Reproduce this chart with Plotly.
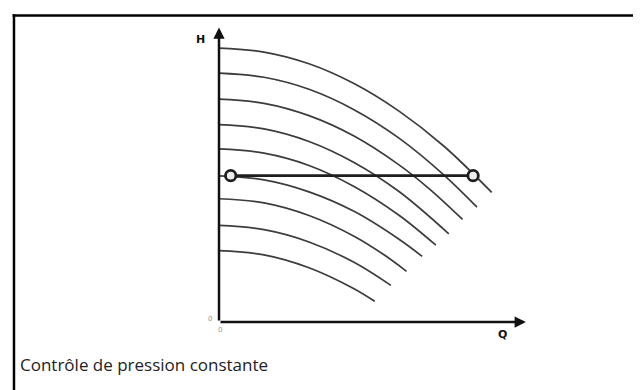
import plotly.graph_objects as go

# Pump curves (H versus Q) at different speeds
q_1 = [0, 1.5, 3, 4.5, 6, 7.5, 9.09]
h_1 = [9.13, 9.00, 8.61, 7.95, 7.03, 5.86, 4.32]
q_2 = [0, 1.5, 3, 4.5, 6, 7.5, 8.6]
h_2 = [8.30, 8.16, 7.76, 7.08, 6.13, 4.90, 3.83]
q_3 = [0, 1.5, 3, 4.5, 6, 7.0, 8.12]
h_3 = [7.43, 7.29, 6.88, 6.20, 5.24, 4.45, 3.42]
q_4 = [0, 1.5, 3, 4.5, 6, 7.66]
h_4 = [6.58, 6.44, 6.02, 5.32, 4.35, 2.94]
q_5 = [0, 1.5, 3, 4.5, 6, 7.23]
h_5 = [5.77, 5.63, 5.22, 4.52, 3.56, 2.56]
q_6 = [0, 1.5, 3, 4.5, 6, 6.77]
h_6 = [4.87, 4.74, 4.34, 3.69, 2.76, 2.19]
q_7 = [0, 1.5, 3, 4.5, 5.5, 6.25]
h_7 = [4.11, 3.97, 3.55, 2.86, 2.24, 1.69]
q_8 = [0, 1.5, 3, 4.5, 5.73]
h_8 = [3.22, 3.08, 2.67, 1.99, 1.22]
q_9 = [0, 1.5, 3, 4.5, 5.19]
h_9 = [2.38, 2.24, 1.81, 1.11, 0.69]

# Constant pressure control line
const_q = [0.39, 8.47]
const_h = [4.88, 4.88]

axis_q_max = 10.23
axis_h_max = 9.82
x_label = "Q"
y_label = "H"
zero_label = "0"
caption = "Contrôle de pression constante"

curves_q = [q_1, q_2, q_3, q_4, q_5, q_6, q_7, q_8, q_9]
curves_h = [h_1, h_2, h_3, h_4, h_5, h_6, h_7, h_8, h_9]

fig = go.Figure()
for qs, hs in zip(curves_q, curves_h):
    fig.add_trace(go.Scatter(
        x=qs, y=hs, mode="lines",
        line=dict(color="#3c3c3c", width=1.7, shape="spline"),
        hoverinfo="skip", showlegend=False,
    ))

fig.add_trace(go.Scatter(
    x=const_q, y=const_h, mode="lines+markers",
    line=dict(color="#1e1e1e", width=2.7),
    marker=dict(size=10.5, color="#ededed", line=dict(color="#1e1e1e", width=2.8)),
    hoverinfo="skip", showlegend=False, cliponaxis=False,
))

# axis arrows
fig.add_annotation(x=0, y=axis_h_max, ax=0, ay=0, xref="x", yref="y",
                   axref="x", ayref="y", showarrow=True, arrowhead=2,
                   arrowsize=0.9, arrowwidth=2.5, arrowcolor="#111111", text="")
fig.add_annotation(x=axis_q_max, y=0, ax=0, ay=0, xref="x", yref="y",
                   axref="x", ayref="y", showarrow=True, arrowhead=2,
                   arrowsize=0.9, arrowwidth=2.5, arrowcolor="#111111", text="")

# axis labels
fig.add_annotation(x=0, y=axis_h_max, xref="x", yref="y", text="<b>" + y_label + "</b>",
                   showarrow=False, xshift=-19, yshift=-12,
                   font=dict(family="DejaVu Sans", size=11, color="#111111"))
fig.add_annotation(x=axis_q_max, y=0, xref="x", yref="y", text="<b>" + x_label + "</b>",
                   showarrow=False, xshift=-23, yshift=-12,
                   font=dict(family="DejaVu Sans", size=11, color="#111111"))
fig.add_annotation(x=0, y=0, xref="x", yref="y", text=zero_label,
                   showarrow=False, xshift=-9, yshift=3,
                   font=dict(family="DejaVu Sans", size=7, color="#9a9a9a"))
fig.add_annotation(x=0, y=0, xref="x", yref="y", text=zero_label,
                   showarrow=False, xshift=1, yshift=-8,
                   font=dict(family="DejaVu Sans", size=7, color="#9a9a9a"))

# caption
fig.add_annotation(x=-0.652, y=-0.145, xref="paper", yref="paper", text=caption,
                   showarrow=False, xanchor="left", yanchor="middle",
                   font=dict(family="Open Sans", size=17, color="#222222"))

# frame (top and left edges)
fig.add_shape(type="line", xref="paper", yref="paper", x0=-0.668, x1=1.40,
              y0=1.0355, y1=1.0355, line=dict(color="#000000", width=2.5))
fig.add_shape(type="line", xref="paper", yref="paper", x0=-0.6635, x1=-0.6635,
              y0=1.04, y1=-0.27, line=dict(color="#000000", width=2.5))

fig.update_xaxes(range=[0, 10.3], visible=False, fixedrange=True)
fig.update_yaxes(range=[0, 9.87], visible=False, fixedrange=True)
fig.update_layout(
    width=641, height=390,
    margin=dict(l=211, r=121, t=18, b=76),
    plot_bgcolor="white", paper_bgcolor="white",
)

fig.write_html("out.html")
